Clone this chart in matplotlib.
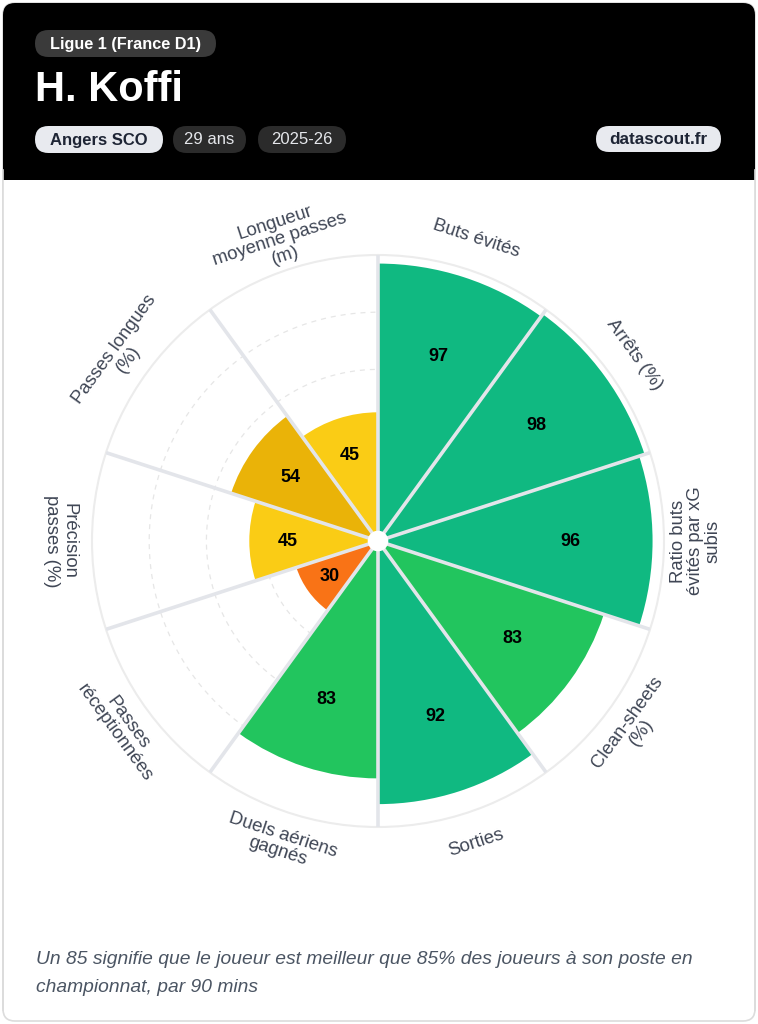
import numpy as np
import matplotlib
matplotlib.use("Agg")
import matplotlib.pyplot as plt
from matplotlib.patches import FancyBboxPatch, Rectangle

plt.rcParams['font.family'] = ['Liberation Sans', 'DejaVu Sans']

# ---------------- data ----------------
categories = ["Buts évités", "Arrêts (%)", "Ratio buts\névités par xG\nsubis",
              "Clean-sheets\n(%)", "Sorties", "Duels aériens\ngagnés",
              "Passes\nréceptionnées", "Précision\npasses (%)", "Passes longues\n(%)",
              "Longueur\nmoyenne passes\n(m)"]
values = [97, 98, 96, 83, 92, 83, 30, 45, 54, 45]
colors = ["#10b981", "#10b981", "#10b981", "#22c55e", "#10b981", "#22c55e",
          "#f97316", "#facc15", "#eab308", "#facc15"]
league = "Ligue 1 (France D1)"
player = "H. Koffi"
team = "Angers SCO"
age = "29 ans"
season = "2025-26"
site = "datascout.fr"
footer_lines = ["Un 85 signifie que le joueur est meilleur que 85% des joueurs à son poste en",
                "championnat, par 90 mins"]

W, H = 758, 1024
fig = plt.figure(figsize=(W / 100, H / 100), dpi=100)
fig.patch.set_facecolor("white")

# ---------------- background / card ----------------
bg = fig.add_axes([0, 0, 1, 1], zorder=0)
bg.set_xlim(0, W)
bg.set_ylim(H, 0)
bg.axis("off")

card = FancyBboxPatch((3, 3), W - 6, H - 6, boxstyle="round,pad=0,rounding_size=12",
                      facecolor="white", edgecolor="#dcdcdc", linewidth=1.2)
bg.add_patch(card)
header = FancyBboxPatch((3, 3), W - 6, 200, boxstyle="round,pad=0,rounding_size=12",
                        facecolor="black", edgecolor="none")
bg.add_patch(header)
bg.add_patch(Rectangle((3, 60), W - 6, 120, facecolor="black", edgecolor="none"))
bg.add_patch(Rectangle((3, 180), W - 6, 40, facecolor="white", edgecolor="none"))
bg.plot([3, 3], [170, 1010], color="#dcdcdc", lw=1.2)
bg.plot([W - 3, W - 3], [170, 1010], color="#dcdcdc", lw=1.2)


def pill(x0, x1, y0, y1, fc, text, tc, bold, fs):
    h = y1 - y0
    p = FancyBboxPatch((x0, y0), x1 - x0, h,
                       boxstyle=f"round,pad=0,rounding_size={h/2}",
                       facecolor=fc, edgecolor="none")
    bg.add_patch(p)
    bg.text((x0 + x1) / 2, (y0 + y1) / 2 + 0.5, text, color=tc, fontsize=fs,
            fontweight="bold" if bold else "normal", ha="center", va="center")


pill(35, 216, 30, 57, "#3a3a3a", league, "white", True, 11.7)
bg.text(35, 90, player, color="white", fontsize=30, fontweight="bold",
        ha="left", va="center")
pill(35, 163, 126, 153, "#e8eaef", team, "#1e2535", True, 12)
pill(173, 246, 126, 153, "#2b2b2b", age, "#e5e7eb", False, 12)
pill(258, 346, 126, 153, "#2b2b2b", season, "#e5e7eb", False, 12)
pill(596, 721, 126, 152, "#e8eaef", site, "#1e2535", True, 12.3)

for yy, line in zip([959, 987], footer_lines):
    bg.text(36, yy, line, color="#4b5563", fontsize=13.85, style="italic",
            ha="left", va="center")

# ---------------- polar chart ----------------
cx, cy, R = 378, 541, 286
ax = fig.add_axes([(cx - R) / W, (H - cy - R) / H, 2 * R / W, 2 * R / H],
                  projection="polar", zorder=1)
ax.set_facecolor("none")
ax.set_theta_zero_location("N")
ax.set_theta_direction(-1)
ax.set_ylim(0, 100)
ax.set_xticks([])
ax.set_yticks([])
ax.grid(False)
ax.spines["polar"].set_color("#ececec")
ax.spines["polar"].set_linewidth(1.5)

n = len(values)
width = 2 * np.pi / n
theta = np.arange(n) * width + width / 2

# dashed rings
tt = np.linspace(0, 2 * np.pi, 400)
for r in [20, 40, 60, 80]:
    ax.plot(tt, np.full_like(tt, r), color="#e6e6e6", lw=0.9, ls=(0, (4, 4)), zorder=1)

ax.bar(theta, values, width=width, color=colors, edgecolor="none", zorder=2)

# separators
for i in range(n):
    a = i * width
    ax.plot([a, a], [0, 100], color="#e3e5ea", lw=2.6, zorder=3, solid_capstyle="butt")

# center hole
ax.bar([0], [3.6], width=2 * np.pi, bottom=0, color="white", edgecolor="none", zorder=4)

# value labels
for t, v in zip(theta, values):
    ax.text(t, v * 0.7, str(v), ha="center", va="center", fontsize=13,
            fontweight="bold", color="black", zorder=5)

# category labels
for t, lab in zip(theta, categories):
    deg = np.degrees(t)
    if 89.9 < deg < 270.1:
        rot = 180 - deg
    else:
        rot = -deg
    ax.text(t, 111, lab, ha="center", va="center", rotation=rot,
            rotation_mode="anchor", fontsize=13.3, color="#3f4655",
            linespacing=1.02, clip_on=False, zorder=5)

fig.savefig("out.png", dpi=100, facecolor="white")
